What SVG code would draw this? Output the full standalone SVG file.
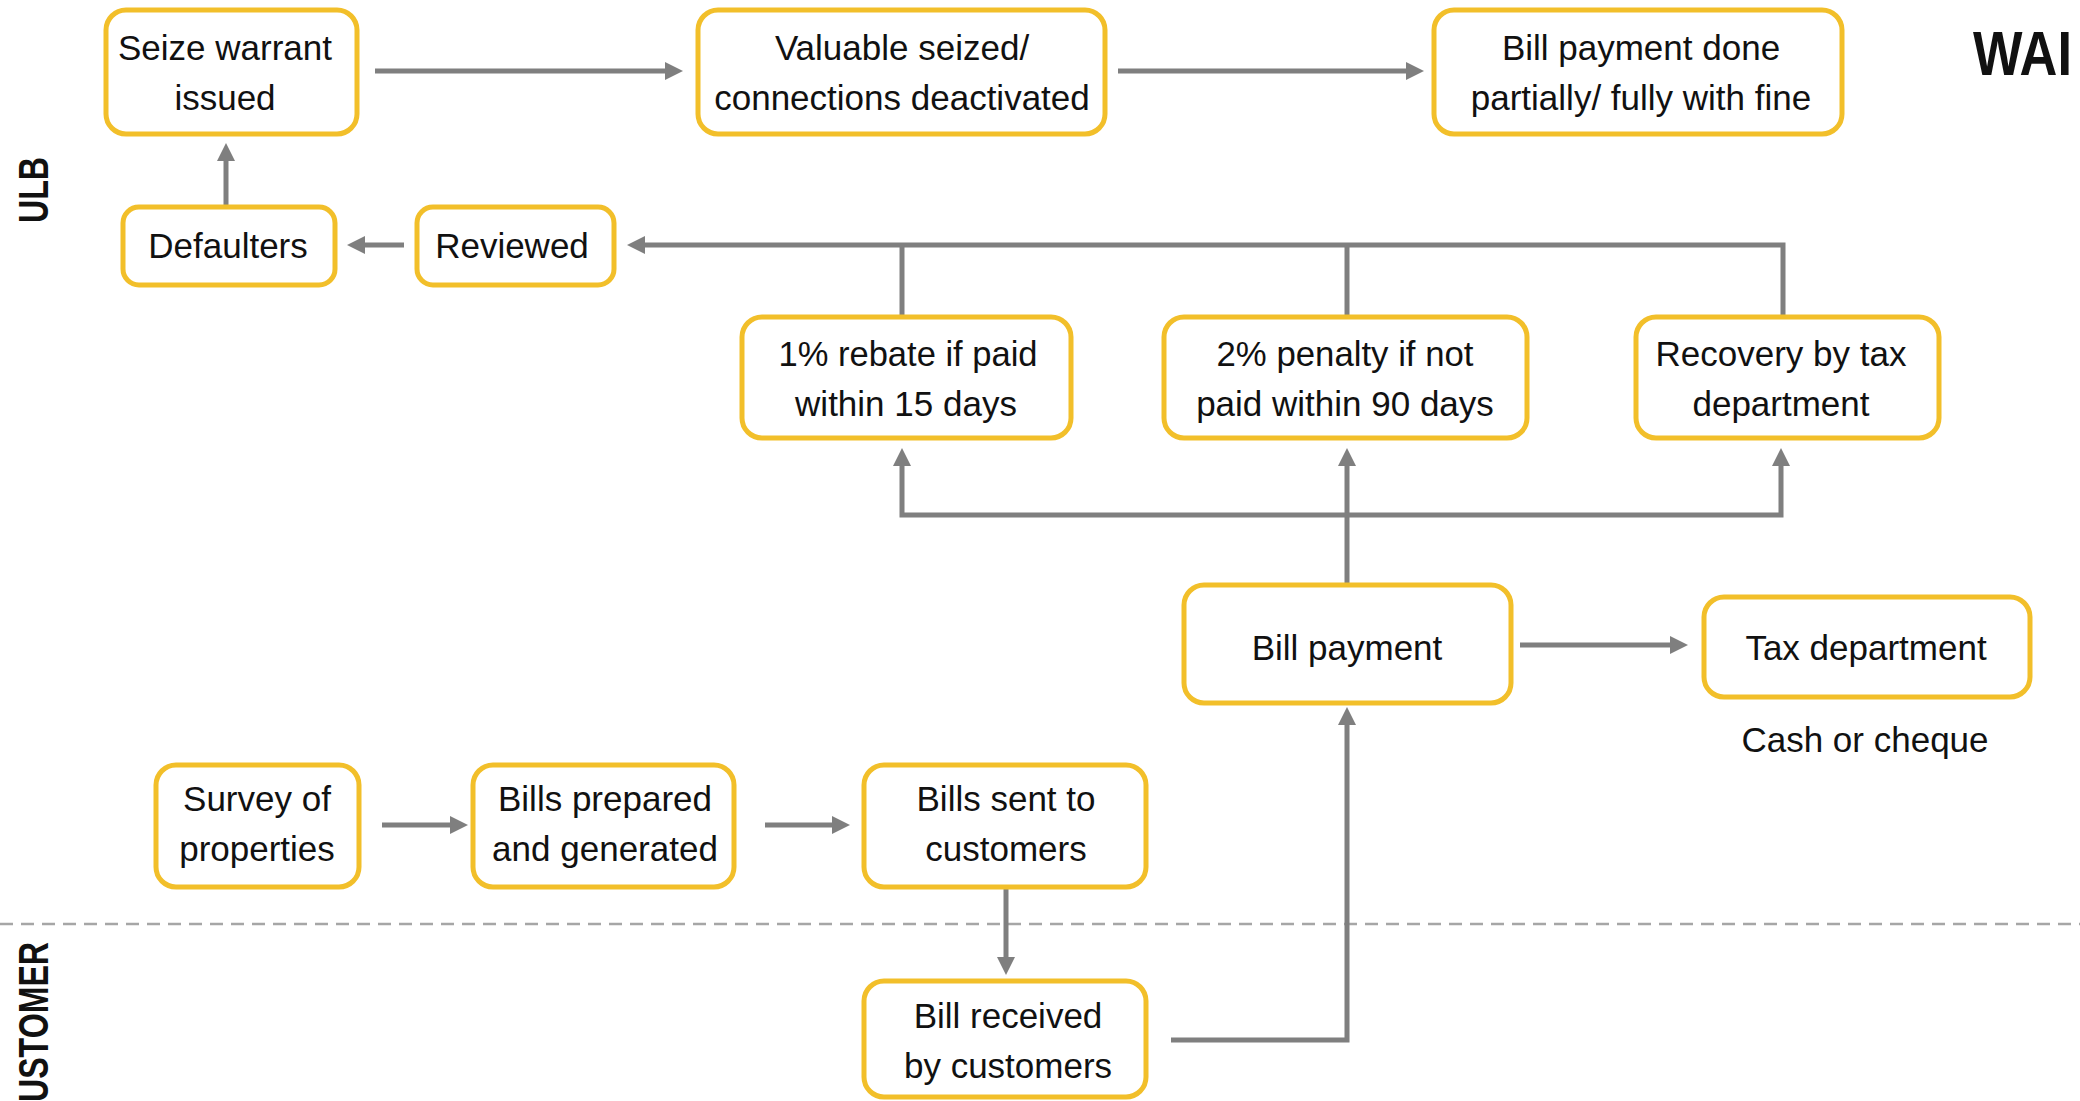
<svg xmlns="http://www.w3.org/2000/svg" width="2080" height="1101" viewBox="0 0 2080 1101">
<style>
.box{fill:#fff;stroke:#F2BF2A;stroke-width:5}
.t{font-family:"Liberation Sans",Arial,sans-serif;font-size:35px;fill:#111;text-anchor:middle}
.lane{font-family:"Liberation Sans",Arial,sans-serif;font-size:42px;font-weight:bold;fill:#111}
.c{fill:none;stroke:#7f7f7f;stroke-width:5}
.a{marker-end:url(#ah)}
</style>
<defs>
<marker id="ah" viewBox="0 0 18 18" markerWidth="18" markerHeight="18" markerUnits="userSpaceOnUse" refX="4" refY="9" orient="auto">
<path d="M0,0 L18,9 L0,18 z" fill="#7f7f7f"/>
</marker>
</defs>
<rect width="2080" height="1101" fill="#fff"/>
<line x1="0" y1="924" x2="2080" y2="924" stroke="#a6a6a6" stroke-width="2.5" stroke-dasharray="13 8"/>
<text class="lane" transform="translate(48,190) rotate(-90)" text-anchor="middle" textLength="66" lengthAdjust="spacingAndGlyphs">ULB</text>
<text class="lane" transform="translate(48,942) rotate(-90)" text-anchor="end" textLength="160" lengthAdjust="spacingAndGlyphs">USTOMER</text>
<text x="1973" y="75" font-family="Liberation Sans,Arial,sans-serif" font-size="63" font-weight="bold" fill="#111" textLength="99" lengthAdjust="spacingAndGlyphs">WAI</text>
<g id="connectors">
<path class="c a" d="M375,71 H669"/>
<path class="c a" d="M1118,71 H1410"/>
<path class="c a" d="M226,207 V157"/>
<path class="c a" d="M404,245 H361"/>
<path class="c a" d="M1783,317 V245 H641"/>
<path class="c" d="M902,317 V245"/>
<path class="c" d="M1347,317 V245"/>
<path class="c a" d="M1347,585 V462"/>
<path class="c a" d="M1347,515 H902 V462"/>
<path class="c a" d="M1347,515 H1781 V462"/>
<path class="c a" d="M1520,645 H1674"/>
<path class="c a" d="M382,825 H454"/>
<path class="c a" d="M765,825 H836"/>
<path class="c a" d="M1006,887 V961"/>
<path class="c a" d="M1171,1040 H1347 V721"/>
</g>
<g id="seize">
<rect class="box" x="106" y="10" width="251" height="124" rx="20"/>
<text class="t" x="225" y="60">Seize warrant</text>
<text class="t" x="225" y="110">issued</text>
</g>
<g id="valuable">
<rect class="box" x="698" y="10" width="407" height="124" rx="20"/>
<text class="t" x="902" y="60">Valuable seized/</text>
<text class="t" x="902" y="110">connections deactivated</text>
</g>
<g id="billdone">
<rect class="box" x="1434" y="10" width="408" height="124" rx="20"/>
<text class="t" x="1641" y="60">Bill payment done</text>
<text class="t" x="1641" y="110">partially/ fully with fine</text>
</g>
<g id="defaulters">
<rect class="box" x="123" y="207" width="212" height="78" rx="16"/>
<text class="t" x="228" y="258">Defaulters</text>
</g>
<g id="reviewed">
<rect class="box" x="417" y="207" width="197" height="78" rx="16"/>
<text class="t" x="512" y="258">Reviewed</text>
</g>
<g id="rebate">
<rect class="box" x="742" y="317" width="329" height="121" rx="20"/>
<text class="t" x="908" y="366" textLength="259" lengthAdjust="spacingAndGlyphs">1% rebate if paid</text>
<text class="t" x="906" y="416">within 15 days</text>
</g>
<g id="penalty">
<rect class="box" x="1164" y="317" width="363" height="121" rx="20"/>
<text class="t" x="1345" y="366" textLength="257" lengthAdjust="spacingAndGlyphs">2% penalty if not</text>
<text class="t" x="1345" y="416">paid within 90 days</text>
</g>
<g id="recovery">
<rect class="box" x="1636" y="317" width="303" height="121" rx="20"/>
<text class="t" x="1781" y="366">Recovery by tax</text>
<text class="t" x="1781" y="416">department</text>
</g>
<g id="billpayment">
<rect class="box" x="1184" y="585" width="327" height="118" rx="20"/>
<text class="t" x="1347" y="660">Bill payment</text>
</g>
<g id="taxdept">
<rect class="box" x="1704" y="597" width="326" height="100" rx="20"/>
<text class="t" x="1866" y="660">Tax department</text>
</g>
<text class="t" x="1865" y="752">Cash or cheque</text>
<g id="survey">
<rect class="box" x="156" y="765" width="203" height="122" rx="20"/>
<text class="t" x="257" y="811">Survey of</text>
<text class="t" x="257" y="861">properties</text>
</g>
<g id="billsprepared">
<rect class="box" x="473" y="765" width="261" height="122" rx="20"/>
<text class="t" x="605" y="811">Bills prepared</text>
<text class="t" x="605" y="861">and generated</text>
</g>
<g id="billssent">
<rect class="box" x="864" y="765" width="282" height="122" rx="20"/>
<text class="t" x="1006" y="811">Bills sent to</text>
<text class="t" x="1006" y="861">customers</text>
</g>
<g id="billreceived">
<rect class="box" x="864" y="981" width="282" height="116" rx="20"/>
<text class="t" x="1008" y="1028">Bill received</text>
<text class="t" x="1008" y="1078">by customers</text>
</g>
</svg>
